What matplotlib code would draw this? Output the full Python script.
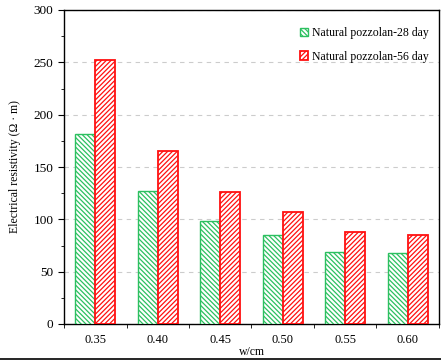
import numpy as np
import matplotlib
matplotlib.use("Agg")
import matplotlib.pyplot as plt
from matplotlib.ticker import MultipleLocator
from matplotlib.lines import Line2D

plt.rcParams['font.family'] = ['Liberation Serif', 'DejaVu Serif']
plt.rcParams['hatch.linewidth'] = 0.9

categories = ["0.35", "0.40", "0.45", "0.50", "0.55", "0.60"]
day28 = [182, 127, 98, 85, 69, 68]
day56 = [252, 165, 126, 107, 88, 85]
labels = ["Natural pozzolan-28 day", "Natural pozzolan-56 day"]

green = "#2cc060"
red = "#ff1010"

fig = plt.figure(figsize=(4.41, 3.6), dpi=100)
ax = fig.add_axes([64 / 441, 1 - 324 / 360, 375 / 441, 314 / 360])

x = np.arange(len(categories))
w = 0.32
ax.bar(x - w / 2, day28, w, facecolor="white", edgecolor=green, hatch="\\\\\\\\\\\\\\",
       linewidth=1.0, label=labels[0], zorder=3)
ax.bar(x + w / 2, day56, w, facecolor="white", edgecolor=red, hatch="///////",
       linewidth=1.3, label=labels[1], zorder=3)

ax.set_xlim(-0.5, len(categories) - 0.5)
ax.set_ylim(0, 300)
ax.set_xticks(x)
ax.set_xticklabels(categories)
ax.set_xticks(np.arange(-0.5, len(categories), 1.0), minor=True)
ax.tick_params(axis="x", which="major", length=0, pad=7, labelsize=9)
ax.tick_params(axis="x", which="minor", length=3, direction="out")
ax.yaxis.set_major_locator(MultipleLocator(50))
ax.yaxis.set_minor_locator(MultipleLocator(25))
ax.tick_params(axis="y", which="major", length=4, labelsize=9.5)
ax.tick_params(axis="y", which="minor", length=2)
ax.grid(axis="y", linestyle=(0, (4, 4)), color="#cccccc", linewidth=0.8, zorder=0)
for s in ax.spines.values():
    s.set_linewidth(1.0)

ax.set_ylabel("Electrical resistivity (Ω · m)", fontsize=8.5, labelpad=9)
ax.set_xlabel("w/cm", fontsize=8.5, labelpad=0)

ax.legend(loc="upper right", frameon=False, fontsize=8.5, handlelength=0.7,
          handleheight=0.7, handletextpad=0.3, labelspacing=1.0,
          bbox_to_anchor=(1.0, 0.98))

# frame line at the bottom of the image, as in the source
fig.add_artist(Line2D([0, 1], [1.5 / 360, 1.5 / 360], color="black", linewidth=1.2,
                      transform=fig.transFigure))

fig.savefig("out.png", dpi=100)
